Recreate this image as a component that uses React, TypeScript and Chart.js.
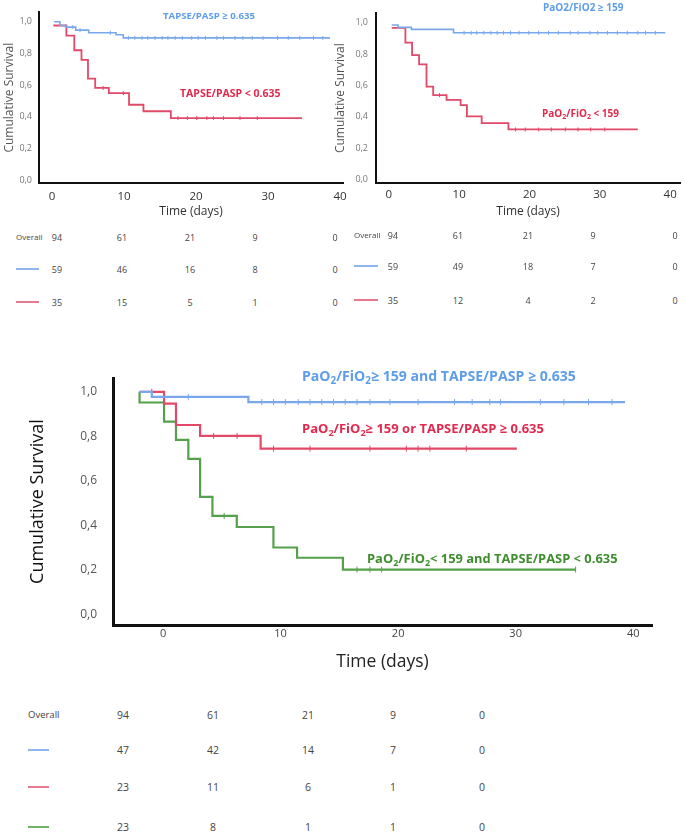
import React, { useEffect, useRef } from 'react';
import { Chart, registerables } from 'chart.js';

Chart.register(...registerables);

// ---------- Panel A: TAPSE/PASP ----------
const aHighTimes = [0.3, 1.1, 1.9, 3.3, 5.1, 8.9, 9.9, 38.6];
const aHighSurv = [1.0, 0.976, 0.966, 0.947, 0.93, 0.918, 0.898, 0.898];
const aHighCensor = [2.9, 3.9, 8.1, 10.6, 11.5, 12.5, 13.3, 14.3, 15.3, 16.1, 17.1, 18.1, 19.4, 20.3, 21.3, 22.9, 23.8, 25.4, 26.5, 27.8, 29.3, 31.3, 32.8, 34.4, 36.3, 37.6];
const aLowTimes = [0.2, 2.0, 3.1, 4.1, 5.0, 6.0, 7.9, 10.7, 12.7, 16.5, 34.7];
const aLowSurv = [0.976, 0.912, 0.82, 0.759, 0.641, 0.582, 0.549, 0.476, 0.435, 0.392, 0.392];
const aLowCensor = [7.1, 9.9, 17.5, 18.8, 20.1, 21.5, 22.4, 23.8, 26.1, 28.5];

// ---------- Panel B: PaO2/FiO2 ----------
const bHighTimes = [0.4, 1.3, 3.2, 9.2, 39.3];
const bHighSurv = [0.985, 0.97, 0.957, 0.935, 0.935];
const bHighCensor = [10.7, 11.7, 12.5, 13.5, 14.5, 15.4, 16.3, 17.3, 18.5, 19.9, 21.3, 22.7, 24.1, 25.8, 26.9, 28.6, 29.7, 31.1, 32.5, 33.9, 35.4, 36.5, 37.9];
const bLowTimes = [0.4, 2.35, 3.3, 4.3, 5.35, 6.3, 8.2, 10.2, 11.1, 13.2, 17.0, 35.4];
const bLowSurv = [0.966, 0.872, 0.793, 0.734, 0.592, 0.537, 0.507, 0.473, 0.402, 0.359, 0.318, 0.318];
const bLowCensor = [7.2, 18.0, 19.4, 21.3, 23.1, 25.1, 26.9, 28.7, 30.7];

// ---------- Panel C: combined ----------
const cBothTimes = [-2.0, -0.96, 7.26, 39.3];
const cBothSurv = [1.0, 0.977, 0.954, 0.954];
const cBothCensor = [2.15, 8.4, 9.4, 10.4, 11.5, 12.5, 13.5, 14.5, 15.5, 16.5, 17.6, 19.3, 21.7, 24.8, 26.3, 27.8, 28.7, 32.1, 34.1, 36.2, 38.2];
const cEitherTimes = [-2.0, 0.085, 1.1, 3.15, 8.3, 30.1];
const cEitherSurv = [1.0, 0.947, 0.851, 0.802, 0.745, 0.745];
const cEitherCensor = [-0.96, 4.3, 6.3, 9.4, 12.5, 17.6, 20.7, 21.7, 22.7, 25.8];
const cNoneTimes = [-2.0, -2.0, 0.085, 1.1, 2.15, 3.15, 4.2, 6.27, 9.39, 11.4, 15.3, 35.1];
const cNoneSurv = [1.0, 0.952, 0.866, 0.784, 0.699, 0.528, 0.443, 0.393, 0.301, 0.255, 0.202, 0.202];
const cNoneCensor = [5.2, 16.5, 17.6, 18.6, 35.1];

// ---------- axis ticks ----------
const xTickValues = [0, 10, 20, 30, 40];
const yTickValues = [0, 0.2, 0.4, 0.6, 0.8, 1.0];

// ---------- numbers at risk ----------
const aRiskOverall = [94, 61, 21, 9, 0];
const aRiskHigh = [59, 46, 16, 8, 0];
const aRiskLow = [35, 15, 5, 1, 0];
const bRiskOverall = [94, 61, 21, 9, 0];
const bRiskHigh = [59, 49, 18, 7, 0];
const bRiskLow = [35, 12, 4, 2, 0];
const cRiskOverall = [94, 61, 21, 9, 0];
const cRiskBoth = [47, 42, 14, 7, 0];
const cRiskEither = [23, 11, 6, 1, 0];
const cRiskNone = [23, 8, 1, 1, 0];

const BLUE = '#78a8ea';
const RED = '#e24868';
const GREEN = '#55a04a';
const BLUE_T = '#5d9de9';
const RED_T = '#e0294d';
const GREEN_T = '#3e8e2e';
const FONT = "'Open Sans', 'DejaVu Sans', sans-serif";

function survAt(times: number[], surv: number[], t: number) {
  let v = surv[0];
  for (let i = 0; i < times.length; i++) if (times[i] <= t) v = surv[i];
  return v;
}

type Series = { times: number[]; surv: number[]; censor: number[]; color: string; width: number; tick: number };

type Spec = {
  left: number; top: number; width: number; height: number;
  pad: { left: number; top: number; right: number; bottom: number };
  yW: number; xH: number;
  xMin: number; xMax: number; yMin: number; yMax: number;
  series: Series[];
  yTitle: { size: number; color: string; padTop: number };
  xTitle: { size: number; color: string; padBottom: number };
  yTick: { size: number; color: string; pad: number };
  xTick: { size: number; color: string; pad: number };
  axisW: number;
};

function KMChart({ spec }: { spec: Spec }) {
  const ref = useRef<HTMLCanvasElement | null>(null);
  useEffect(() => {
    const s = spec;
    const datasets: any[] = [];
    s.series.forEach((se) => {
      datasets.push({
        type: 'line',
        data: se.times.map((t, i) => ({ x: t, y: se.surv[i] })),
        stepped: 'before',
        borderColor: se.color,
        borderWidth: se.width,
        pointRadius: 0,
        fill: false,
      });
      datasets.push({
        type: 'scatter',
        data: se.censor.map((t) => ({ x: t, y: survAt(se.times, se.surv, t) })),
        pointStyle: 'line',
        rotation: 90,
        pointRadius: se.tick,
        borderColor: se.color,
        backgroundColor: se.color,
        borderWidth: 1,
        showLine: false,
      });
    });
    const chart = new Chart(ref.current as HTMLCanvasElement, {
      type: 'line',
      data: { datasets },
      options: {
        responsive: false,
        animation: false,
        devicePixelRatio: 1,
        layout: { padding: s.pad },
        plugins: { legend: { display: false }, tooltip: { enabled: false } },
        scales: {
          x: {
            type: 'linear',
            min: s.xMin,
            max: s.xMax,
            afterBuildTicks: (sc: any) => { sc.ticks = xTickValues.map((v) => ({ value: v })); },
            afterFit: (sc: any) => { sc.height = s.xH; },
            grid: { display: false, drawTicks: false },
            border: { display: true, color: '#111', width: s.axisW },
            ticks: {
              padding: s.xTick.pad,
              color: s.xTick.color,
              font: { family: FONT, size: s.xTick.size },
              maxRotation: 0,
              autoSkip: false,
              callback: (v: any) => String(v),
            },
            title: {
              display: true,
              text: 'Time (days)',
              color: s.xTitle.color,
              font: { family: FONT, size: s.xTitle.size },
              padding: { top: 0, bottom: s.xTitle.padBottom },
            },
          },
          y: {
            type: 'linear',
            min: s.yMin,
            max: s.yMax,
            afterBuildTicks: (sc: any) => { sc.ticks = yTickValues.map((v) => ({ value: v })); },
            afterFit: (sc: any) => { sc.width = s.yW; },
            grid: { display: false, drawTicks: false },
            border: { display: true, color: '#111', width: s.axisW },
            ticks: {
              padding: s.yTick.pad,
              color: s.yTick.color,
              font: { family: FONT, size: s.yTick.size },
              callback: (v: any) => Number(v).toFixed(1).replace('.', ','),
            },
            title: {
              display: true,
              text: 'Cumulative Survival',
              color: s.yTitle.color,
              font: { family: FONT, size: s.yTitle.size },
              padding: { top: s.yTitle.padTop, bottom: 0 },
            },
          },
        },
      } as any,
    });
    return () => chart.destroy();
  }, []);
  return (
    <canvas
      ref={ref}
      width={spec.width}
      height={spec.height}
      style={{ position: 'absolute', left: spec.left, top: spec.top, width: spec.width, height: spec.height }}
    />
  );
}

const specA: Spec = {
  left: 0, top: 0, width: 360, height: 225,
  pad: { left: 0, top: 0, right: 17, bottom: 0 },
  yW: 39, xH: 42,
  xMin: -1.8, xMax: 40.4, yMin: -0.0176, yMax: 1.0588,
  series: [
    { times: aHighTimes, surv: aHighSurv, censor: aHighCensor, color: BLUE, width: 1.6, tick: 2 },
    { times: aLowTimes, surv: aLowSurv, censor: aLowCensor, color: RED, width: 1.8, tick: 2 },
  ],
  yTitle: { size: 12, color: '#555', padTop: 2 },
  xTitle: { size: 12, color: '#333', padBottom: 6 },
  yTick: { size: 9, color: '#777', pad: 7 },
  xTick: { size: 11.5, color: '#333', pad: 7 },
  axisW: 2,
};

const specB: Spec = {
  left: 330, top: 0, width: 355, height: 225,
  pad: { left: 0, top: 0, right: 2, bottom: 0 },
  yW: 46, xH: 42,
  xMin: -1.83, xMax: 41.4, yMin: -0.0237, yMax: 1.059,
  series: [
    { times: bHighTimes, surv: bHighSurv, censor: bHighCensor, color: BLUE, width: 1.6, tick: 2 },
    { times: bLowTimes, surv: bLowSurv, censor: bLowCensor, color: RED, width: 1.8, tick: 2 },
  ],
  yTitle: { size: 12, color: '#555', padTop: 3 },
  xTitle: { size: 12, color: '#333', padBottom: 6 },
  yTick: { size: 9, color: '#777', pad: 8 },
  xTick: { size: 11.5, color: '#333', pad: 5 },
  axisW: 2,
};

const specC: Spec = {
  left: 0, top: 355, width: 685, height: 320,
  pad: { left: 0, top: 10, right: 33, bottom: 0 },
  yW: 113, xH: 50,
  xMin: -4.26, xMax: 41.6, yMin: -0.0469, yMax: 1.061,
  series: [
    { times: cBothTimes, surv: cBothSurv, censor: cBothCensor, color: BLUE, width: 2.2, tick: 3 },
    { times: cEitherTimes, surv: cEitherSurv, censor: cEitherCensor, color: RED, width: 2.2, tick: 3 },
    { times: cNoneTimes, surv: cNoneSurv, censor: cNoneCensor, color: GREEN, width: 2.2, tick: 3 },
  ],
  yTitle: { size: 18, color: '#111', padTop: 27 },
  xTitle: { size: 17.5, color: '#222', padBottom: 2 },
  yTick: { size: 12, color: '#555', pad: 16 },
  xTick: { size: 11, color: '#444', pad: 2.5 },
  axisW: 3,
};

function Sub({ children }: { children: any }) {
  return <span style={{ fontSize: '0.7em', position: 'relative', top: '0.3em' }}>{children}</span>;
}

function RichText({ text }: { text: string }) {
  const parts = text.split('₂');
  const out: any[] = [];
  parts.forEach((p, i) => {
    out.push(<span key={'p' + i}>{p}</span>);
    if (i < parts.length - 1) out.push(<Sub key={'s' + i}>2</Sub>);
  });
  return <>{out}</>;
}

type Lab = { text: string; x: number; y: number; size: number; color: string };

const curveLabels: Lab[] = [
  { text: 'TAPSE/PASP ≥ 0.635', x: 163, y: 16, size: 9.6, color: BLUE_T },
  { text: 'TAPSE/PASP < 0.635', x: 180, y: 93, size: 10.5, color: RED_T },
  { text: 'PaO2/FiO2 ≥ 159', x: 543, y: 7, size: 10, color: BLUE_T },
  { text: 'PaO₂/FiO₂ < 159', x: 542, y: 113, size: 10, color: RED_T },
  { text: 'PaO₂/FiO₂≥ 159 and TAPSE/PASP ≥ 0.635', x: 302, y: 376, size: 14.1, color: BLUE_T },
  { text: 'PaO₂/FiO₂≥ 159 or TAPSE/PASP ≥ 0.635', x: 302, y: 428, size: 13, color: RED_T },
  { text: 'PaO₂/FiO₂< 159 and TAPSE/PASP < 0.635', x: 367, y: 558, size: 12.9, color: GREEN_T },
];

type Table = {
  labelX: number; colX: number[]; rowY: number[]; rows: number[][]; lineColors: string[];
  lineW: number; labelSize: number; numSize: number;
};

const tables: Table[] = [
  { labelX: 16, colX: [57, 122, 190, 255, 335], rowY: [237, 269, 302], rows: [aRiskOverall, aRiskHigh, aRiskLow], lineColors: ['#8fb5ee', '#e8798f'], lineW: 23, labelSize: 8, numSize: 9 },
  { labelX: 354, colX: [393, 458, 528, 593, 675], rowY: [235, 266, 300], rows: [bRiskOverall, bRiskHigh, bRiskLow], lineColors: ['#8fb5ee', '#e8798f'], lineW: 24, labelSize: 8, numSize: 9 },
  { labelX: 28, colX: [123, 213, 308, 393, 482], rowY: [715, 750, 787, 827], rows: [cRiskOverall, cRiskBoth, cRiskEither, cRiskNone], lineColors: ['#8fb5ee', '#e8798f', '#6fb566'], lineW: 21, labelSize: 9.5, numSize: 10.5 },
];

function RiskTable({ t }: { t: Table }) {
  const items: any[] = [];
  items.push(
    <span key="ov" style={{ position: 'absolute', left: t.labelX, top: t.rowY[0], transform: 'translateY(-50%)', fontSize: t.labelSize, color: '#444', whiteSpace: 'nowrap', lineHeight: 1 }}>Overall</span>
  );
  t.lineColors.forEach((c, i) => {
    items.push(
      <div key={'ln' + i} style={{ position: 'absolute', left: t.labelX, top: t.rowY[i + 1] - 1, width: t.lineW, height: 2, background: c }} />
    );
  });
  t.rows.forEach((row, r) => {
    row.forEach((v, c) => {
      items.push(
        <span key={`n${r}-${c}`} style={{ position: 'absolute', left: t.colX[c], top: t.rowY[r], transform: 'translate(-50%, -50%)', fontSize: t.numSize, color: '#444', whiteSpace: 'nowrap', lineHeight: 1 }}>{v}</span>
      );
    });
  });
  return <>{items}</>;
}

export default function App() {
  return (
    <div style={{ position: 'absolute', left: 0, top: 0, width: 685, height: 833, overflow: 'hidden', background: '#fff', fontFamily: FONT }}>
      <KMChart spec={specA} />
      <KMChart spec={specB} />
      <KMChart spec={specC} />
      {curveLabels.map((l, i) => (
        <span key={'cl' + i} style={{ position: 'absolute', left: l.x, top: l.y, transform: 'translateY(-50%)', fontSize: l.size, fontWeight: 700, color: l.color, whiteSpace: 'nowrap', lineHeight: 1 }}>
          <RichText text={l.text} />
        </span>
      ))}
      {tables.map((t, i) => <RiskTable key={'t' + i} t={t} />)}
    </div>
  );
}
